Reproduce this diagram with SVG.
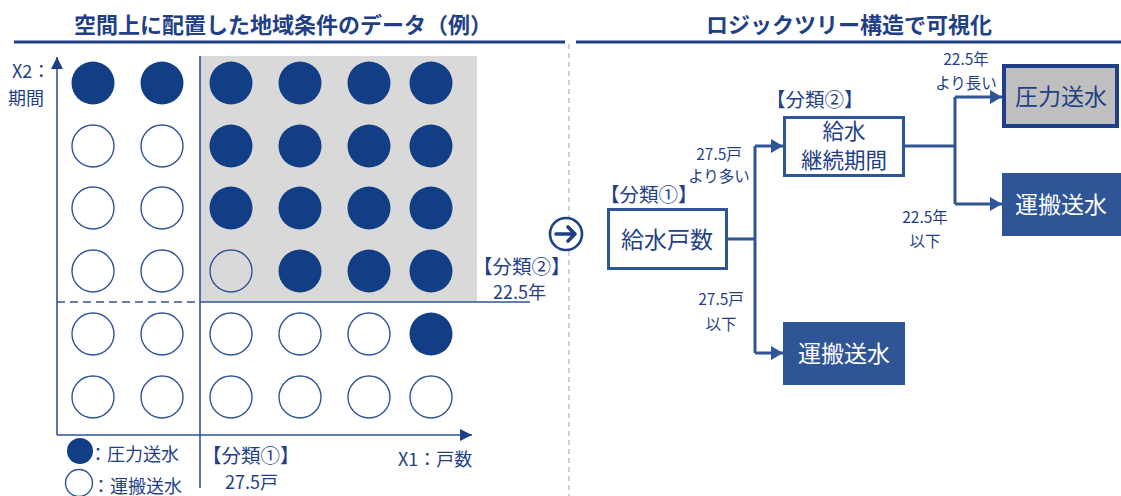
<svg xmlns="http://www.w3.org/2000/svg" width="1121" height="496" viewBox="0 0 1121 496">
<defs>
<style>
text{font-family:"Noto Sans CJK JP","Liberation Sans",sans-serif;fill:#1f3f87}
.title{font-size:22px;font-weight:bold;text-anchor:middle}
.lbl{font-size:18px}
.cls{font-size:19.5px}
.sm{font-size:15.5px;text-anchor:middle}
.box{font-size:23px;text-anchor:middle}
.box2{font-size:21.5px;text-anchor:middle}
.wt{fill:#ffffff}
.f{fill:#123e86}
.o{fill:#ffffff;stroke:#2f5597;stroke-width:1.4}
.og{fill:none;stroke:#2f5597;stroke-width:1.4}
.ax{stroke:#2f5597;stroke-width:1.6;fill:none}
.con{stroke:#2f5597;stroke-width:3;fill:none}
</style>
<marker id="ah" markerUnits="userSpaceOnUse" markerWidth="12" markerHeight="14" refX="12" refY="7" orient="auto">
<path d="M0,0 L12,7 L0,14 z" fill="#2f5597"/>
</marker>
<marker id="axh" markerUnits="userSpaceOnUse" markerWidth="12" markerHeight="12" refX="12" refY="6" orient="auto">
<path d="M0,0 L12,6 L0,12 z" fill="#1f3f87"/>
</marker>
</defs>
<rect width="1121" height="496" fill="#ffffff"/>

<g id="title-left">
<text class="title" x="283" y="33">空間上に配置した地域条件のデータ（例）</text>
<line x1="14" y1="42" x2="565" y2="42" stroke="#1f3f87" stroke-width="3"/>
</g>
<g id="title-right">
<text class="title" x="849" y="33">ロジックツリー構造で可視化</text>
<line x1="576" y1="42" x2="1121" y2="42" stroke="#1f3f87" stroke-width="3"/>
</g>
<line id="separator" x1="569" y1="44" x2="569" y2="496" stroke="#b0b0b0" stroke-width="1.2" stroke-dasharray="5,4"/>

<g id="chart">
<rect x="200" y="56" width="277" height="246" fill="#d9d9d9"/>
<line x1="200" y1="56" x2="200" y2="488" class="ax"/>
<line x1="57" y1="302" x2="200" y2="302" class="ax" stroke-dasharray="8,5"/>
<line x1="200" y1="302" x2="530" y2="302" class="ax"/>
<path d="M57,435 V57" class="ax" marker-end="url(#axh)"/>
<path d="M57,435 H472" class="ax" marker-end="url(#axh)"/>
<text class="lbl" x="12" y="78">X2：</text>
<text class="lbl" x="8" y="105">期間</text>
<text class="lbl" x="398" y="466">X1：戸数</text>
<text class="cls" x="202" y="463">【分類①】</text>
<text class="lbl" x="225" y="489">27.5戸</text>
<text class="cls" x="473" y="274">【分類②】</text>
<text class="lbl" x="493" y="299">22.5年</text>
<g id="row1">
<circle class="f" cx="93" cy="83" r="21.5"/><circle class="f" cx="162" cy="83" r="21.5"/><circle class="f" cx="231" cy="83" r="21.5"/><circle class="f" cx="300" cy="83" r="21.5"/><circle class="f" cx="369" cy="83" r="21.5"/><circle class="f" cx="431" cy="83" r="21.5"/>
</g>
<g id="row2">
<circle class="o" cx="93" cy="146" r="21"/><circle class="o" cx="162" cy="146" r="21"/><circle class="f" cx="231" cy="146" r="21.5"/><circle class="f" cx="300" cy="146" r="21.5"/><circle class="f" cx="369" cy="146" r="21.5"/><circle class="f" cx="431" cy="146" r="21.5"/>
</g>
<g id="row3">
<circle class="o" cx="93" cy="208" r="21"/><circle class="o" cx="162" cy="208" r="21"/><circle class="f" cx="231" cy="208" r="21.5"/><circle class="f" cx="300" cy="208" r="21.5"/><circle class="f" cx="369" cy="208" r="21.5"/><circle class="f" cx="431" cy="208" r="21.5"/>
</g>
<g id="row4">
<circle class="o" cx="93" cy="271" r="21"/><circle class="o" cx="162" cy="271" r="21"/><circle class="og" cx="231" cy="271" r="21"/><circle class="f" cx="300" cy="271" r="21.5"/><circle class="f" cx="369" cy="271" r="21.5"/><circle class="f" cx="431" cy="271" r="21.5"/>
</g>
<g id="row5">
<circle class="o" cx="93" cy="334" r="21"/><circle class="o" cx="162" cy="334" r="21"/><circle class="o" cx="231" cy="334" r="21"/><circle class="o" cx="300" cy="334" r="21"/><circle class="o" cx="369" cy="334" r="21"/><circle class="f" cx="431" cy="334" r="21.5"/>
</g>
<g id="row6">
<circle class="o" cx="93" cy="397" r="21"/><circle class="o" cx="162" cy="397" r="21"/><circle class="o" cx="231" cy="397" r="21"/><circle class="o" cx="300" cy="397" r="21"/><circle class="o" cx="369" cy="397" r="21"/><circle class="o" cx="431" cy="397" r="21"/>
</g>
</g>

<g id="legend">
<circle class="f" cx="80" cy="451" r="13"/>
<text class="lbl" x="89" y="461">：圧力送水</text>
<circle class="o" cx="79" cy="483" r="13.5"/>
<text class="lbl" x="92" y="493">：運搬送水</text>
</g>

<g id="arrow-icon">
<circle cx="566" cy="234" r="16" fill="#ffffff" stroke="#1f3f87" stroke-width="2.6"/>
<path d="M556,234 H575 M568,227 L575,234 L568,241" fill="none" stroke="#1f3f87" stroke-width="3.6" stroke-linecap="round" stroke-linejoin="round"/>
</g>

<g id="connectors">
<path class="con" d="M728,239 H755 M755,146 V353"/>
<path class="con" d="M755,146 H783" marker-end="url(#ah)"/>
<path class="con" d="M755,353 H783" marker-end="url(#ah)"/>
<path class="con" d="M905,146 H955 M955,97 V204"/>
<path class="con" d="M955,97 H1002" marker-end="url(#ah)"/>
<path class="con" d="M955,204 H1002" marker-end="url(#ah)"/>
<text class="sm" x="719" y="160">27.5戸</text>
<text class="sm" x="719" y="182">より多い</text>
<text class="sm" x="721" y="305">27.5戸</text>
<text class="sm" x="721" y="330">以下</text>
<text class="sm" x="966" y="65">22.5年</text>
<text class="sm" x="966" y="89">より長い</text>
<text class="sm" x="925" y="223">22.5年</text>
<text class="sm" x="925" y="247">以下</text>
</g>

<g id="node-kyusui-kosu">
<text class="cls" x="600" y="202">【分類①】</text>
<rect x="608.5" y="209.5" width="118" height="59" fill="#ffffff" stroke="#2f5597" stroke-width="3"/>
<text class="box" x="667" y="248">給水戸数</text>
</g>
<g id="node-keizoku">
<text class="cls" x="766" y="107">【分類②】</text>
<rect x="784.5" y="117.5" width="119" height="58" fill="#ffffff" stroke="#2f5597" stroke-width="3"/>
<text class="box2" x="844" y="139">給水</text>
<text class="box2" x="844" y="168">継続期間</text>
</g>
<g id="node-unpan-1">
<rect x="783" y="322" width="122" height="63" fill="#2f5597"/>
<text class="box wt" x="844" y="362">運搬送水</text>
</g>
<g id="node-atsuryoku">
<rect x="1004" y="66" width="113" height="60" fill="#bfbfbf" stroke="#1f3f87" stroke-width="4"/>
<text class="box" x="1061" y="105">圧力送水</text>
</g>
<g id="node-unpan-2">
<rect x="1002" y="173" width="119" height="63" fill="#2f5597"/>
<text class="box wt" x="1061" y="213">運搬送水</text>
</g>
</svg>
